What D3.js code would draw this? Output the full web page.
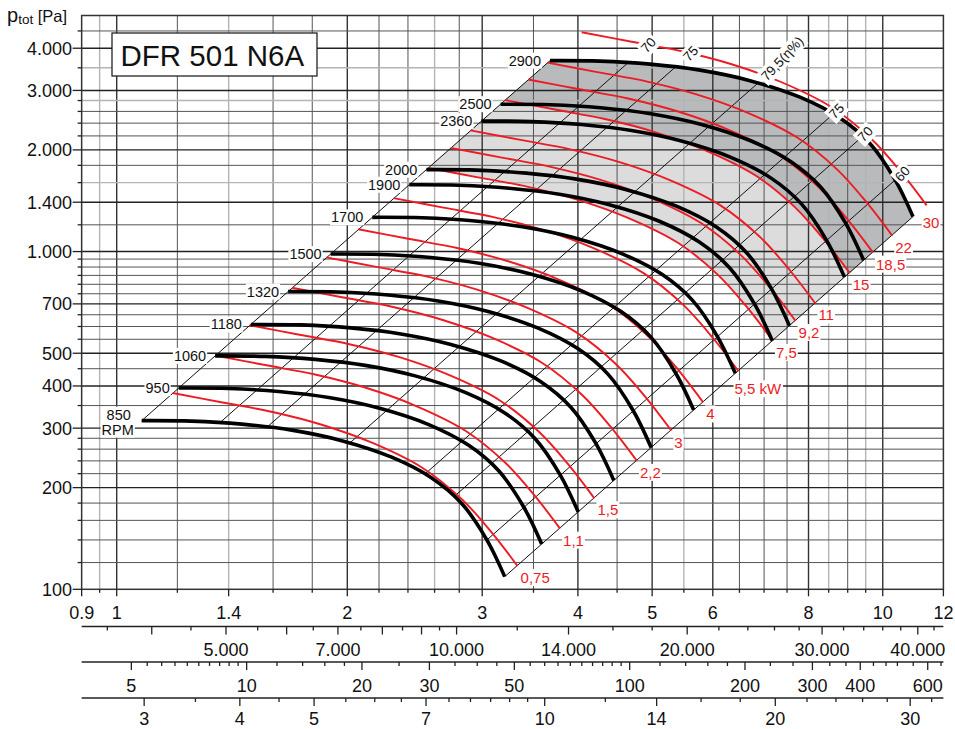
<!DOCTYPE html>
<html><head><meta charset="utf-8">
<script src="https://cdn.jsdelivr.net/npm/d3@7"></script>
<style>
body{margin:0;background:#fff}
svg{display:block}
text{font-family:"Liberation Sans",Arial,Helvetica,sans-serif}
</style>
</head><body>
<svg id="c" width="955" height="729"></svg>
<script>
// ---------------- DATA ----------------
const title = "DFR 501 N6A";
const rpmValues = [850, 950, 1060, 1180, 1320, 1500, 1700, 1900, 2000, 2360, 2500, 2900];
const refRpm = 2900;
// characteristic at 2900 RPM (flow m3/s, total pressure Pa)
const refCurveQ = [3.678, 4.274, 4.968, 5.774, 6.710, 7.798, 8.794, 9.624, 10.375, 10.952];
const refCurveP = [3675, 3663, 3589, 3445, 3207, 2865, 2487, 2090, 1633, 1269];
// motor power limit lines (kW)
const powerValues = [0.75, 1.1, 1.5, 2.2, 3, 4, 5.5, 7.5, 9.2, 11, 15, 18.5, 22, 30];
const powerLabels = ["0,75", "1,1", "1,5", "2,2", "3", "4", "5,5 kW", "7,5", "9,2", "11", "15", "18,5", "22", "30"];
const refPower = 30;
const refPowerQ = [4.046, 4.702, 5.464, 6.350, 7.380, 8.577, 9.673, 10.586, 11.411];
const refPowerP = [4460, 4180, 3918, 3586, 3172, 2675, 2150, 1710, 1370];
// efficiency lines: flow where they cross the 2900 RPM curve
const effQ = [4.65, 5.36, 6.87, 8.61, 9.40, 10.38];
const effLabels = ["70", "75", "79,5(η%)", "75", "70", "60"];
// shaded zones, bounded below by a power line (kW)
const lightZoneKw = 7.5;
const darkZoneKw = 15;
// grid
const gridQ = [0.95, 1, 1.2, 1.4, 1.6, 1.8, 2, 2.2, 2.4, 2.6, 2.8, 3, 3.5, 4, 4.5, 5, 5.5, 6, 6.5, 7, 7.5, 8, 8.5, 9, 9.5, 10];
const gridQLight = [0.95, 1.4, 2.6, 5.5, 8.5, 9.5];
const gridP = [120, 140, 160, 180, 200, 220, 240, 260, 280, 300, 350, 400, 450, 500, 550, 600, 650, 700, 750, 800, 850, 900, 950, 1000, 1200, 1400, 1600, 1800, 2000, 2200, 2400, 2600, 2800, 3000, 3500, 4000, 4500];
const gridPLight = [3500, 2800, 1600];
const xTickLabels = [0.9, 1, 1.4, 2, 3, 4, 5, 6, 8, 10, 12];
const yTickLabels = [100, 200, 300, 400, 500, 700, 1000, 1400, 2000, 3000, 4000];
// secondary scales
const m3hTicks = [3500, 4000, 4500, 5000, 5500, 6000, 6500, 7000, 7500, 8000, 8500, 9000, 9500, 10000, 12000, 14000, 16000, 18000, 20000, 22000, 24000, 26000, 28000, 30000, 32000, 34000, 36000, 38000, 40000, 42000];
const m3hMajor = [4000, 5000, 6000, 7000, 8000, 9000, 10000, 14000, 20000, 30000, 40000];
const m3hLabels = [5000, 7000, 10000, 14000, 20000, 30000, 40000];
const pdTicks = [5, 5.5, 6, 6.5, 7, 7.5, 8, 8.5, 9, 9.5, 10, 12, 14, 16, 18, 20, 25, 30, 35, 40, 45, 50, 55, 60, 65, 70, 75, 80, 85, 90, 95, 100, 120, 140, 160, 180, 200, 233, 267, 300, 333, 367, 400, 433, 467, 500, 550, 600, 650];
const pdLabels = [5, 10, 20, 30, 50, 100, 200, 300, 400, 600];
const velTicks = [3, 3.5, 4, 4.5, 5, 5.5, 6, 6.5, 7, 7.5, 8, 8.5, 9, 9.5, 10, 12, 14, 16, 18, 20, 22, 24, 26, 28, 30, 32];
const velLabels = [3, 4, 5, 7, 10, 14, 20, 30];
const outletArea = 0.362; // m2
const airDensity = 1.2;   // kg/m3

// ---------------- LAYOUT ----------------
const X0 = 81.65, X1 = 943.4, Y0 = 589.3, Y1 = 15.5;
const RED = "#ec1c24";
const svg = d3.select("#c");
const x = d3.scaleLog().domain([0.9, 12]).range([X0, X1]);
const y = d3.scaleLog().domain([100, 5000]).range([Y0, Y1]);
const m3hScale = d3.scaleLog().domain([0.9 * 3600, 12 * 3600]).range([X0, X1]);
const velScale = d3.scaleLog().domain([0.9 / outletArea, 12 / outletArea]).range([X0, X1]);
const pdScale = d3.scaleLog().domain([0.5 * airDensity * (0.9 / outletArea) ** 2, 0.5 * airDensity * (12 / outletArea) ** 2]).range([X0, X1]);
const fmtDot = d3.formatLocale({decimal: ",", thousands: ".", grouping: [3], currency: ["", ""]}).format(",");

const lineGen = d3.line().curve(d3.curveCatmullRom.alpha(0.5));
function scaledPts(Qs, Ps, r) { return Qs.map((q, i) => [x(q * r), y(Ps[i] * r * r)]); }
function logInterp(xs, ys, xv) {
  for (let i = 0; i < xs.length - 1; i++) {
    const a = Math.min(xs[i], xs[i + 1]), b = Math.max(xs[i], xs[i + 1]);
    if (xv >= a && xv <= b) {
      const t = (Math.log(xv) - Math.log(xs[i])) / (Math.log(xs[i + 1]) - Math.log(xs[i]));
      return Math.exp(Math.log(ys[i]) + t * (Math.log(ys[i + 1]) - Math.log(ys[i])));
    }
  }
  return null;
}
function zonePath(kw) {
  const lo = scaledPts(refPowerQ, refPowerP, Math.cbrt(kw / refPower));
  const hi = scaledPts(refCurveQ, refCurveP, 1).reverse();
  return lineGen(lo) + "L" + lineGen(hi).slice(1) + "Z";
}
function addBg(sel, pad) {
  sel.each(function () {
    const b = this.getBBox();
    const t = this.getAttribute("transform");
    d3.select(this.parentNode).insert("rect", () => this)
      .attr("x", b.x - pad).attr("y", b.y - pad + 1).attr("width", b.width + 2 * pad).attr("height", b.height + 2 * pad - 2)
      .attr("fill", "#fff").attr("transform", t);
  });
}

// ---------------- FILLS ----------------
const gFill = svg.append("g");
gFill.append("path").attr("d", zonePath(lightZoneKw)).attr("fill", "#dcdcdc");
gFill.append("path").attr("d", zonePath(darkZoneKw)).attr("fill", "#b9babc");

// ---------------- GRID ----------------
const gGrid = svg.append("g");
gGrid.selectAll(".vg").data(gridQ).join("line")
  .attr("x1", d => x(d)).attr("x2", d => x(d)).attr("y1", Y1).attr("y2", Y0)
  .attr("stroke", d => gridQLight.includes(d) ? "#b4b4b4" : (xTickLabels.includes(d) ? "#333" : "#555"))
  .attr("stroke-width", d => gridQLight.includes(d) ? 1.4 : (xTickLabels.includes(d) ? 1.4 : 1));
gGrid.selectAll(".hg").data(gridP).join("line")
  .attr("y1", d => y(d)).attr("y2", d => y(d)).attr("x1", X0).attr("x2", X1)
  .attr("stroke", d => gridPLight.includes(d) ? "#b4b4b4" : (yTickLabels.includes(d) ? "#222" : "#555"))
  .attr("stroke-width", d => gridPLight.includes(d) ? 1.4 : (yTickLabels.includes(d) ? 1.4 : 1));
svg.append("rect").attr("x", X0).attr("y", Y1).attr("width", X1 - X0).attr("height", Y0 - Y1)
  .attr("fill", "none").attr("stroke", "#333").attr("stroke-width", 1.5);

// ---------------- SYSTEM / EFFICIENCY LINES ----------------
const rMin = rpmValues[0] / refRpm, rMax = rpmValues[rpmValues.length - 1] / refRpm;
const sysQ = [refCurveQ[0], ...effQ, refCurveQ[refCurveQ.length - 1]];
const gSys = svg.append("g");
sysQ.forEach(q => {
  const p = logInterp(refCurveQ, refCurveP, q);
  gSys.append("line")
    .attr("x1", x(q * rMin)).attr("y1", y(p * rMin * rMin))
    .attr("x2", x(q * rMax)).attr("y2", y(p * rMax * rMax))
    .attr("stroke", "#111").attr("stroke-width", 1);
});

// ---------------- POWER LINES (red) ----------------
const gRed = svg.append("g");
powerValues.forEach(P => {
  const r = Math.cbrt(P / refPower);
  gRed.append("path").attr("d", lineGen(scaledPts(refPowerQ, refPowerP, r)))
    .attr("fill", "none").attr("stroke", RED).attr("stroke-width", 1.9);
});

// ---------------- FAN CURVES (black) ----------------
const gBlk = svg.append("g");
rpmValues.forEach(n => {
  const r = n / refRpm;
  gBlk.append("path").attr("d", lineGen(scaledPts(refCurveQ, refCurveP, r)))
    .attr("fill", "none").attr("stroke", "#000").attr("stroke-width", 3.6).attr("stroke-linecap", "butt");
});

// ---------------- LABELS ----------------
const gLab = svg.append("g");
rpmValues.forEach((n, i) => {
  const r = n / refRpm;
  const sx = x(refCurveQ[0] * r), sy = y(refCurveP[0] * r * r);
  if (i === 0) {
    const t1 = gLab.append("text").attr("x", sx - 23).attr("y", sy - 1).attr("text-anchor", "middle")
      .attr("font-size", 14.5).attr("fill", "#111").text(String(n));
    const t2 = gLab.append("text").attr("x", sx - 24).attr("y", sy + 14).attr("text-anchor", "middle")
      .attr("font-size", 14.5).attr("fill", "#111").text("RPM");
    addBg(t1, 1); addBg(t2, 1);
  } else {
    const t = gLab.append("text").attr("x", sx - 9).attr("y", sy + 5).attr("text-anchor", "end")
      .attr("font-size", 14.5).attr("fill", "#111").text(String(n));
    addBg(t, 1);
  }
});
powerValues.forEach((P, i) => {
  const r = Math.cbrt(P / refPower);
  const last = refPowerQ.length - 1;
  const ex = x(refPowerQ[last] * r), ey = y(refPowerP[last] * r * r);
  const special = powerLabels[i].length > 4 || i === powerValues.length - 1;
  const t = gLab.append("text")
    .attr("x", special ? ex - 4 : ex + 3).attr("y", special ? ey + 23 : ey + 17)
    .attr("font-size", 15).attr("fill", RED).text(powerLabels[i]);
  addBg(t, 1);
});
effQ.forEach((q, i) => {
  const p = logInterp(refCurveQ, refCurveP, q);
  const k = p / (q * q);
  const kr = refPowerQ.map((qq, j) => refPowerP[j] / (qq * qq));
  const qi = logInterp(kr, refPowerQ, k);
  const pi = logInterp(kr, refPowerP, k);
  const px = x(qi), py = y(pi);
  const long = effLabels[i].length > 3;
  const t = gLab.append("text")
    .attr("transform", `translate(${px},${py}) rotate(-47)`)
    .attr("x", long ? -3 : 0).attr("y", 0).attr("dy", "0.35em")
    .attr("text-anchor", long ? "start" : "middle")
    .attr("font-size", 13.5).attr("fill", "#111").text(effLabels[i]);
  addBg(t, 2);
});

// ---------------- TITLE ----------------
svg.append("rect").attr("x", 112).attr("y", 33).attr("width", 205).attr("height", 43)
  .attr("fill", "#fff").attr("stroke", "#111").attr("stroke-width", 1.2);
svg.append("text").attr("x", 120.5).attr("y", 65.5).attr("font-size", 29.5).attr("fill", "#111").text(title);

// ---------------- Y AXIS ----------------
const gY = svg.append("g");
gY.selectAll("line").data([100, ...gridP]).join("line")
  .attr("x1", d => yTickLabels.includes(d) ? X0 - 9 : X0 - 4).attr("x2", X0)
  .attr("y1", d => y(d)).attr("y2", d => y(d)).attr("stroke", "#222").attr("stroke-width", 1.3);
gY.selectAll("text").data(yTickLabels).join("text")
  .attr("x", 72).attr("y", d => y(d) + 6.5).attr("text-anchor", "end").attr("font-size", 18).attr("fill", "#111")
  .text(d => fmtDot(d));
const yt = svg.append("text").attr("x", 7).attr("y", 22).attr("fill", "#111");
yt.append("tspan").attr("font-size", 20).text("p");
yt.append("tspan").attr("font-size", 13.5).attr("dy", 2).text("tot");
yt.append("tspan").attr("font-size", 16.5).attr("dy", -2).text(" [Pa]");

// ---------------- X AXES ----------------
const gX = svg.append("g");
gX.selectAll("line").data([0.9, ...gridQ, 12]).join("line")
  .attr("x1", d => x(d)).attr("x2", d => x(d)).attr("y1", Y0)
  .attr("y2", d => xTickLabels.includes(d) ? Y0 + 7 : Y0 + 3.5).attr("stroke", "#222").attr("stroke-width", 1.3);
gX.selectAll("text").data(xTickLabels).join("text")
  .attr("x", d => x(d)).attr("y", 619).attr("text-anchor", "middle").attr("font-size", 18).attr("fill", "#111")
  .text(d => String(d));

function secondaryAxis(scale, y0, ticks, majors, labels, fmt, dyLab) {
  const g = svg.append("g");
  g.append("line").attr("x1", X0).attr("x2", X1).attr("y1", y0).attr("y2", y0).attr("stroke", "#222").attr("stroke-width", 1.6);
  g.selectAll("line.t").data(ticks).join("line").attr("class", "t")
    .attr("x1", d => scale(d)).attr("x2", d => scale(d)).attr("y1", y0)
    .attr("y2", d => majors.includes(d) ? y0 + 8 : y0 + 4).attr("stroke", "#222").attr("stroke-width", 1.3);
  g.selectAll("text").data(labels).join("text")
    .attr("x", d => scale(d)).attr("y", y0 + dyLab).attr("text-anchor", "middle").attr("font-size", 18).attr("fill", "#111")
    .text(d => fmt(d));
}
secondaryAxis(m3hScale, 626.5, m3hTicks, m3hMajor, m3hLabels, d => fmtDot(d), 29.5);
secondaryAxis(pdScale, 662, pdTicks, pdLabels, pdLabels, d => String(d), 29.5);
secondaryAxis(velScale, 698, velTicks, velLabels, velLabels, d => String(d), 26.8);
</script>
</body></html>
